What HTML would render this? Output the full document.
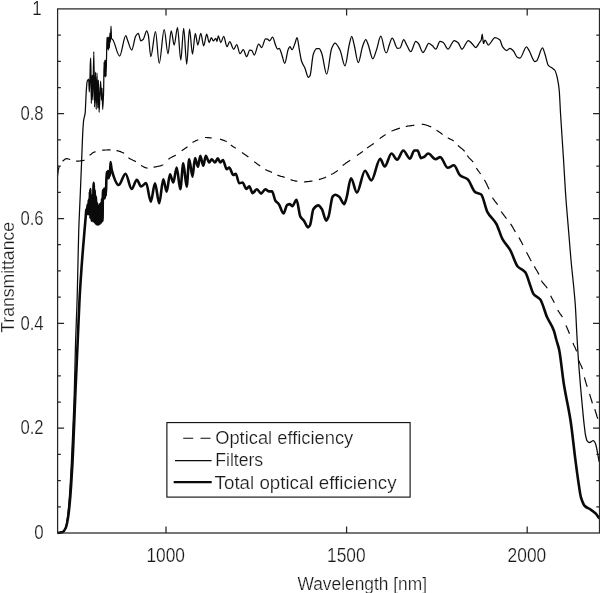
<!DOCTYPE html>
<html><head><meta charset="utf-8"><title>Transmittance</title>
<style>
html,body{margin:0;padding:0;background:#fff;}
svg{display:block;font-family:"Liberation Sans",sans-serif;font-size:18px;}
text{fill:#1a1a1a;stroke:#fff;stroke-width:0.22px;paint-order:fill stroke;}
.t{filter:grayscale(1);}
.tk{font-size:19.6px;}
</style></head>
<body>
<svg width="600" height="593" viewBox="0 0 600 593">
<rect x="0" y="0" width="600" height="593" fill="#fff"/>
<!-- curves -->
<g fill="none" stroke="#0a0a0a" stroke-linejoin="round" stroke-linecap="butt">
<path stroke-width="1.25" d="M57.6,533.0 C58.9,532.8 60.2,532.8 61.5,532.5 C62.4,532.3 63.3,531.6 64.2,530.5 C64.9,529.7 65.6,527.7 66.3,525.0 C66.9,522.8 67.4,518.0 68.0,513.0 C68.5,508.3 69.1,501.6 69.6,494.0 C70.2,486.0 70.7,475.2 71.3,464.0 C71.8,453.4 72.4,440.7 72.9,428.0 C73.3,417.6 73.8,408.2 74.2,395.0 C74.7,380.7 75.1,356.0 75.6,341.0 C76.1,325.0 76.6,316.9 77.1,300.0 C77.3,292.1 77.6,280.9 77.8,271.0 C78.1,258.3 78.4,241.5 78.7,232.0 C79.2,216.2 79.7,208.2 80.2,196.0 C80.7,183.8 81.2,171.2 81.7,159.0 C82.1,149.2 82.5,136.5 82.9,130.0 C83.2,125.7 83.4,122.0 83.7,120.0 C84.2,116.3 84.7,116.7 85.2,112.6 C85.5,109.8 85.9,97.2 86.2,92.4 C86.5,87.6 86.9,82.2 87.2,81.3 C87.7,80.0 88.2,79.2 88.7,79.2 C88.9,79.2 89.1,92.0 89.3,92.0 C89.5,92.0 89.7,85.5 89.9,80.0 C90.0,76.4 90.2,66.5 90.3,64.0 C90.5,60.9 90.6,58.0 90.8,58.0 C91.0,58.0 91.1,103.5 91.3,103.5 C91.6,103.5 91.9,75.0 92.2,75.0 C92.4,75.0 92.6,100.0 92.8,100.0 C93.1,100.0 93.5,51.5 93.8,51.5 C94.1,51.5 94.3,107.0 94.6,107.0 C94.9,107.0 95.2,72.2 95.5,72.2 C95.7,72.2 96.0,109.4 96.2,109.4 C96.5,109.4 96.7,73.0 97.0,73.0 C97.3,73.0 97.5,108.0 97.8,108.0 C98.0,108.0 98.2,80.0 98.4,80.0 C98.6,80.0 98.9,112.3 99.1,112.3 C99.6,112.3 100.1,81.0 100.6,81.0 C100.9,81.0 101.3,100.0 101.6,100.0 C101.7,100.0 101.9,88.0 102.0,88.0 C102.2,88.0 102.5,109.4 102.7,109.4 C103.0,109.4 103.3,101.0 103.6,91.7 C103.8,86.5 103.9,62.0 104.1,62.0 C104.2,62.0 104.4,76.0 104.5,76.0 C104.6,76.0 104.8,60.0 104.9,60.0 C105.0,60.0 105.2,77.0 105.3,77.0 C105.4,77.0 105.6,60.0 105.7,60.0 C105.8,60.0 106.0,76.0 106.1,76.0 C106.2,76.0 106.4,64.7 106.5,59.0 C106.7,51.9 106.8,37.4 107.0,37.4 C107.1,37.4 107.3,49.0 107.4,49.0 C107.6,49.0 107.7,37.0 107.9,37.0 C108.1,37.0 108.2,50.0 108.4,50.0 C108.6,50.0 108.7,37.0 108.9,37.0 C109.1,37.0 109.2,48.0 109.4,48.0 C109.6,48.0 109.7,33.0 109.9,33.0 C110.1,33.0 110.2,42.0 110.4,42.0 C110.6,42.0 110.8,26.1 111.0,26.1 C111.2,26.1 111.3,37.9 111.5,38.3 C112.0,39.6 112.5,39.3 113.0,40.0 C115.2,43.2 117.4,56.0 119.6,56.0 C121.7,56.0 123.7,35.6 125.8,35.6 C126.4,35.6 126.9,38.6 127.5,40.0 C128.9,43.5 130.3,50.0 131.7,50.0 C133.1,50.0 134.4,37.8 135.8,35.8 C136.6,34.6 137.5,33.3 138.3,33.3 C139.1,33.3 140.0,40.8 140.8,40.8 C141.6,40.8 142.5,40.0 143.3,39.2 C144.4,38.1 145.6,30.8 146.7,30.8 C147.2,30.8 147.8,32.9 148.3,35.0 C149.1,38.2 150.0,56.7 150.8,56.7 C152.4,56.7 153.9,31.7 155.5,31.7 C156.7,31.7 158.0,63.3 159.2,63.3 C160.9,63.3 162.5,29.7 164.2,29.7 C165.5,29.7 166.7,53.7 168.0,53.7 C169.1,53.7 170.1,30.8 171.2,30.8 C172.2,30.8 173.2,45.0 174.2,45.0 C175.3,45.0 176.4,27.5 177.5,27.5 C178.6,27.5 179.7,60.0 180.8,60.0 C181.8,60.0 182.7,28.3 183.7,28.3 C184.7,28.3 185.7,64.2 186.7,64.2 C187.6,64.2 188.6,29.2 189.5,29.2 C190.5,29.2 191.5,54.2 192.5,54.2 C193.4,54.2 194.4,33.3 195.3,33.3 C196.1,33.3 197.0,45.0 197.8,45.0 C198.8,45.0 199.8,33.3 200.8,33.3 C201.8,33.3 202.7,45.8 203.7,45.8 C204.7,45.8 205.7,34.2 206.7,34.2 C207.5,34.2 208.4,42.5 209.2,42.5 C209.9,42.5 210.6,37.5 211.3,37.5 C212.0,37.5 212.6,40.8 213.3,40.8 C214.1,40.8 215.0,38.3 215.8,38.3 C216.2,38.3 216.6,41.5 217.0,41.5 C217.4,41.5 217.9,35.8 218.3,35.8 C219.1,35.8 220.0,42.5 220.8,42.5 C221.8,42.5 222.7,36.3 223.7,36.3 C224.8,36.3 225.9,46.7 227.0,46.7 C227.9,46.7 228.8,41.7 229.7,41.7 C231.0,41.7 232.4,49.2 233.7,49.2 C234.7,49.2 235.7,44.7 236.7,44.7 C237.8,44.7 238.9,53.7 240.0,53.7 C241.1,53.7 242.2,49.7 243.3,49.7 C244.4,49.7 245.6,56.7 246.7,56.7 C247.7,56.7 248.7,50.0 249.7,50.0 C250.4,50.0 251.0,50.1 251.7,50.3 C252.5,50.5 253.4,55.0 254.2,55.0 C255.7,55.0 257.2,44.2 258.7,44.2 C259.7,44.2 260.7,47.5 261.7,47.5 C263.0,47.5 264.2,38.8 265.5,38.8 C266.2,38.8 266.8,39.0 267.5,39.2 C268.2,39.4 269.0,40.8 269.7,40.8 C270.6,40.8 271.6,37.2 272.5,37.2 C273.6,37.2 274.7,43.3 275.8,45.8 C276.4,47.1 276.9,49.2 277.5,49.2 C278.1,49.2 278.6,48.3 279.2,48.3 C280.0,48.3 280.9,52.0 281.7,54.2 C282.7,56.8 283.7,63.3 284.7,63.3 C285.9,63.3 287.1,51.6 288.3,49.2 C288.9,48.1 289.4,46.7 290.0,46.7 C290.7,46.7 291.3,49.7 292.0,49.7 C293.0,49.7 294.0,45.7 295.0,43.3 C295.7,41.6 296.4,37.5 297.1,37.5 C297.8,37.5 298.5,45.1 299.2,48.8 C300.0,52.9 300.7,58.6 301.5,61.0 C302.7,64.6 303.8,65.5 305.0,68.3 C306.1,70.9 307.2,77.3 308.3,77.3 C308.9,77.3 309.4,76.6 310.0,75.8 C311.1,74.2 312.2,57.1 313.3,54.2 C314.4,51.3 315.6,48.7 316.7,48.7 C317.5,48.7 318.4,48.7 319.2,48.7 C320.0,48.7 320.9,51.3 321.7,53.3 C323.4,57.4 325.0,74.2 326.7,74.2 C328.4,74.2 330.0,52.2 331.7,48.3 C332.8,45.7 333.9,43.0 335.0,43.0 C336.7,43.0 338.3,46.8 340.0,50.0 C341.7,53.2 343.3,65.8 345.0,65.8 C346.4,65.8 347.8,50.6 349.2,45.0 C350.0,41.6 350.9,36.3 351.7,36.3 C352.5,36.3 353.4,41.8 354.2,45.0 C355.6,50.2 356.9,62.5 358.3,62.5 C359.7,62.5 361.1,50.5 362.5,46.7 C363.6,43.7 364.7,39.7 365.8,39.7 C366.6,39.7 367.5,42.9 368.3,45.0 C369.8,48.7 371.3,58.8 372.8,58.8 C374.1,58.8 375.4,52.8 376.7,49.2 C378.1,45.4 379.4,36.2 380.8,36.2 C382.5,36.2 384.1,52.5 385.8,52.5 C386.1,52.5 386.4,52.5 386.7,52.5 C387.5,52.5 388.4,47.2 389.2,45.0 C390.2,42.4 391.2,38.2 392.2,38.2 C394.0,38.2 395.7,48.3 397.5,48.3 C398.3,48.3 399.2,48.2 400.0,48.0 C401.2,47.7 402.5,39.7 403.7,39.7 C404.7,39.7 405.7,43.3 406.7,45.0 C408.1,47.3 409.4,51.7 410.8,51.7 C412.5,51.7 414.1,41.3 415.8,41.3 C416.6,41.3 417.5,42.4 418.3,43.3 C419.9,45.0 421.4,52.5 423.0,52.5 C423.7,52.5 424.3,51.0 425.0,50.0 C426.2,48.2 427.5,43.3 428.7,43.3 C430.0,43.3 431.2,44.8 432.5,45.8 C433.6,46.7 434.7,49.2 435.8,49.2 C437.2,49.2 438.6,41.3 440.0,41.3 C441.1,41.3 442.2,41.9 443.3,42.5 C444.9,43.4 446.4,49.2 448.0,49.2 C450.1,49.2 452.1,40.5 454.2,40.5 C455.6,40.5 456.9,41.8 458.3,43.0 C459.5,44.1 460.8,49.2 462.0,49.2 C464.1,49.2 466.2,40.5 468.3,40.5 C469.4,40.5 470.6,42.3 471.7,43.3 C473.1,44.5 474.4,47.5 475.8,47.5 C477.0,47.5 478.3,44.2 479.5,42.5 C480.1,41.7 480.6,41.4 481.2,40.0 C481.5,39.2 481.9,34.2 482.2,34.2 C482.6,34.2 483.1,43.5 483.5,43.5 C484.0,43.5 484.5,40.0 485.0,40.0 C486.1,40.0 487.2,45.0 488.3,45.0 C490.5,45.0 492.8,37.5 495.0,37.5 C496.7,37.5 498.3,38.5 500.0,40.0 C500.8,40.8 501.7,45.5 502.5,46.7 C503.9,48.7 505.3,50.5 506.7,50.5 C507.8,50.5 508.9,48.3 510.0,48.3 C511.1,48.3 512.2,49.7 513.3,50.8 C514.7,52.2 516.1,57.0 517.5,57.5 C518.3,57.8 519.2,58.0 520.0,58.0 C522.2,58.0 524.3,46.8 526.5,46.8 C527.4,46.8 528.3,49.3 529.2,50.8 C531.1,54.0 533.1,61.7 535.0,61.7 C535.6,61.7 536.1,61.2 536.7,60.8 C538.6,59.3 540.6,48.0 542.5,48.0 C543.3,48.0 544.2,51.8 545.0,54.2 C546.1,57.3 547.2,64.0 548.3,65.3 C549.7,67.0 551.1,67.2 552.5,68.3 C553.3,69.0 554.2,69.3 555.0,70.5 C555.8,71.6 556.5,74.5 557.3,77.8 C557.9,80.5 558.6,83.9 559.2,90.0 C559.6,94.2 560.1,105.8 560.5,113.0 C561.4,128.5 562.4,141.3 563.3,156.0 C564.2,169.7 565.0,185.9 565.9,198.0 C566.8,210.5 567.7,220.1 568.6,231.0 C569.5,241.5 570.3,252.6 571.2,262.0 C572.1,272.2 573.1,279.9 574.0,290.0 C574.4,294.7 574.9,298.9 575.3,305.0 C575.9,313.0 576.4,327.3 577.0,337.0 C577.7,348.4 578.3,359.1 579.0,368.0 C580.2,383.6 581.3,395.7 582.5,408.0 C583.1,414.0 583.6,420.2 584.2,425.0 C584.7,429.0 585.1,433.2 585.6,435.5 C586.1,437.9 586.6,440.2 587.1,440.8 C587.9,441.8 588.7,442.5 589.5,442.5 C590.2,442.5 590.8,441.9 591.5,441.5 C592.0,441.2 592.5,440.6 593.0,440.6 C593.5,440.6 594.1,441.2 594.6,441.8 C595.0,442.3 595.5,443.6 595.9,445.0 C596.5,447.0 597.2,451.0 597.8,454.3 C598.3,456.7 598.7,459.4 599.2,462.0"/>
<path stroke-width="1.2" d="M57.5,176.0 L58.4,169.5 L59.3,166.0M62.6,161.2 L63.4,160.5 L64.1,159.9 L64.9,159.3 L65.6,158.9 L66.4,158.6 L67.2,158.6 L67.9,158.8 L68.7,159.0 L69.4,159.3 L70.2,159.5M76.1,161.2 L76.8,161.2 L77.5,161.2 L78.2,161.1 L78.9,161.1 L79.6,161.0 L80.3,160.9 L81.0,160.8 L81.7,160.7 L82.4,160.6 L83.1,160.5 L83.8,160.4 L84.5,160.2M89.6,155.3 L90.3,154.7 L91.1,154.2 L91.8,153.6 L92.5,153.1 L93.3,152.6 L94.0,152.2 L94.8,151.9 L95.5,151.6M102.2,150.2 L103.0,150.2 L103.7,150.1 L104.5,150.1 L105.3,150.0 L106.0,150.0 L106.8,150.0 L107.5,149.9 L108.3,149.9 L109.1,149.9 L109.8,149.9 L110.6,149.9M116.5,150.6 L117.3,150.7 L118.0,150.9 L118.8,151.1 L119.5,151.3 L120.3,151.6 L121.1,151.9 L121.8,152.2 L122.6,152.5 L123.3,152.9 L124.1,153.3M128.4,157.8 L129.2,158.3 L129.9,158.7 L130.7,159.1 L131.4,159.5 L132.2,159.8 L132.9,160.2 L133.7,160.5 L134.4,160.9 L135.2,161.3 L135.9,161.7M141.0,165.4 L141.7,165.8 L142.5,166.2 L143.2,166.6 L144.0,167.0 L144.7,167.4 L145.5,167.7 L146.2,167.9 L147.0,168.0 L147.7,168.1M153.6,167.2 L154.3,167.1 L155.1,166.9 L155.8,166.8 L156.6,166.7 L157.3,166.5 L158.1,166.3 L158.8,166.2 L159.6,166.0 L160.3,165.8 L161.1,165.6 L161.8,165.3 L162.6,165.0 L163.3,164.7M168.3,159.2 L169.1,158.7 L169.8,158.2 L170.6,157.8 L171.3,157.4 L172.1,157.0 L172.8,156.6 L173.6,156.2 L174.3,155.9 L175.1,155.4 L175.8,155.0M181.7,150.8 L182.4,150.3 L183.1,149.8 L183.9,149.3 L184.6,148.8 L185.3,148.3 L186.1,147.8 L186.8,147.2 L187.5,146.7M192.5,142.5 L193.2,142.1 L193.9,141.7 L194.7,141.3 L195.4,140.9 L196.1,140.6 L196.9,140.3 L197.6,140.0 L198.3,139.7M205.0,137.5 L205.7,137.5 L206.5,137.5 L207.2,137.6 L208.0,137.6 L208.7,137.7 L209.5,137.8 L210.2,137.8 L211.0,137.9 L211.7,138.0M220.0,139.2 L220.7,139.4 L221.5,139.6 L222.2,139.8 L223.0,140.1 L223.7,140.3 L224.5,140.6 L225.2,141.0 L226.0,141.3 L226.7,141.7M230.8,145.0 L231.5,145.5 L232.2,146.0 L232.9,146.5 L233.7,146.9 L234.4,147.4 L235.1,147.8 L235.8,148.3M242.0,152.6 L242.7,153.1 L243.4,153.6 L244.1,154.0 L244.8,154.5 L245.6,154.9 L246.3,155.4 L247.0,155.9 L247.7,156.4 L248.4,156.9M254.3,161.6 L255.0,162.2 L255.8,162.8 L256.5,163.3 L257.2,163.9 L258.0,164.5 L258.7,165.0 L259.5,165.6 L260.2,166.1M265.3,169.5 L266.0,169.9 L266.8,170.2 L267.5,170.5 L268.3,170.9 L269.0,171.2 L269.8,171.4 L270.5,171.8 L271.3,172.1 L272.0,172.4M277.4,175.1 L278.1,175.4 L278.9,175.6 L279.6,175.9 L280.3,176.1 L281.0,176.3 L281.8,176.5 L282.5,176.7 L283.2,176.9 L284.0,177.2 L284.7,177.4M290.6,179.6 L291.3,179.8 L292.1,180.1 L292.8,180.3 L293.6,180.5 L294.3,180.7 L295.1,180.9 L295.8,181.1 L296.6,181.2 L297.3,181.3M304.1,181.8 L304.9,181.8 L305.6,181.8 L306.4,181.7 L307.2,181.7 L307.9,181.6 L308.7,181.5 L309.4,181.4 L310.2,181.3 L311.0,181.2 L311.7,181.1 L312.5,181.0M318.9,179.6 L319.6,179.4 L320.3,179.2 L321.0,179.0 L321.7,178.7 L322.4,178.5 L323.2,178.2 L323.9,178.0 L324.6,177.7 L325.3,177.4 L326.0,177.1M331.1,174.6 L331.8,174.2 L332.6,173.8 L333.3,173.4 L334.1,172.9 L334.8,172.5 L335.6,172.0 L336.3,171.5 L337.1,171.0 L337.8,170.4M342.6,165.6 L343.4,165.0 L344.1,164.4 L344.9,163.9 L345.6,163.3 L346.4,162.8 L347.2,162.3 L347.9,161.8 L348.7,161.3 L349.4,160.8 L350.2,160.3M356.9,155.5 L357.6,155.0 L358.4,154.5 L359.1,153.9 L359.9,153.4 L360.6,152.9 L361.3,152.4 L362.1,151.9 L362.8,151.3M367.0,147.9 L367.8,147.4 L368.5,146.9 L369.3,146.4 L370.0,145.9 L370.8,145.4 L371.5,144.9 L372.3,144.4 L373.0,143.9 L373.8,143.4M379.7,138.7 L380.4,138.1 L381.2,137.6 L381.9,137.1 L382.6,136.5 L383.4,136.0 L384.1,135.5 L384.9,135.0 L385.6,134.5M391.5,131.1 L392.3,130.8 L393.0,130.5 L393.8,130.2 L394.6,129.9 L395.3,129.6 L396.1,129.4 L396.8,129.1 L397.6,128.9 L398.4,128.7 L399.1,128.4 L399.9,128.2M405.8,126.5 L406.5,126.4 L407.2,126.2 L407.9,126.1 L408.6,126.0 L409.3,125.9 L410.1,125.8 L410.8,125.7 L411.5,125.6 L412.2,125.5 L412.9,125.4 L413.6,125.3 L414.3,125.2M421.8,124.3 L422.5,124.3 L423.2,124.4 L424.0,124.5 L424.7,124.7 L425.4,124.8 L426.1,125.0 L426.9,125.3 L427.6,125.5 L428.3,125.8 L429.0,126.1 L429.8,126.4 L430.5,126.7 L431.2,126.9M436.5,130.2 L437.3,130.7 L438.1,131.2 L438.8,131.7 L439.6,132.3 L440.4,132.8 L441.1,133.3 L441.9,133.9 L442.7,134.4M447.8,137.8 L448.5,138.2 L449.3,138.6 L450.0,139.0 L450.8,139.4 L451.5,139.7 L452.2,140.1 L453.0,140.6 L453.7,141.1M457.9,145.4 L458.6,146.1 L459.4,146.7 L460.1,147.3 L460.9,147.9 L461.6,148.4 L462.4,149.1 L463.1,149.7 L463.9,150.5 L464.6,151.3M467.2,155.5 L467.9,156.4 L468.7,157.3 L469.4,158.1 L470.1,158.8 L470.9,159.6 L471.6,160.4 L472.4,161.2 L473.1,162.2M476.4,168.1 L477.1,169.2 L477.8,170.2 L478.5,171.1 L479.2,172.0 L479.9,173.0 L480.6,174.0M484.4,179.9 L485.2,181.3 L486.0,182.7 L486.8,184.3 L487.5,185.9 L488.3,187.5 L489.1,189.2M492.5,197.6 L493.2,198.8 L494.0,199.9 L494.7,200.9 L495.4,201.8 L496.1,202.7 L496.9,203.7 L497.6,204.8M501.2,211.5 L502.0,212.6 L502.7,213.7 L503.5,214.7 L504.2,215.7 L505.0,216.7 L505.7,217.6 L506.5,218.6M510.6,223.9 L511.4,225.1 L512.2,226.4 L513.0,227.8 L513.8,229.2 L514.6,230.6 L515.4,231.9M518.9,237.5 L519.7,238.9 L520.5,240.4 L521.4,242.0 L522.2,243.5 L523.0,245.1M526.5,252.2 L527.3,253.7 L528.1,255.2 L528.9,256.7 L529.7,258.2 L530.5,259.7 L531.3,261.1M534.3,266.4 L535.1,267.7 L535.8,269.0 L536.6,270.2 L537.4,271.5 L538.1,272.9 L538.9,274.4M541.4,280.6 L542.1,281.8 L542.9,282.8 L543.6,283.7 L544.3,284.5 L545.0,285.3 L545.8,286.1 L546.5,287.1 L547.2,288.2M550.7,295.8 L551.4,297.2 L552.1,298.6 L552.9,299.9 L553.6,301.3 L554.3,302.7M557.7,310.1 L558.5,311.4 L559.3,312.5 L560.0,313.6 L560.8,314.6 L561.6,315.8 L562.4,317.1M566.0,325.4 L566.7,327.0 L567.4,328.7 L568.1,330.3 L568.8,332.0 L569.5,333.7M573.0,343.1 L573.7,344.8 L574.4,346.3 L575.2,347.8 L575.9,349.5 L576.6,351.4M579.0,360.8 L579.7,362.7 L580.4,364.2 L581.1,365.6 L581.8,367.2 L582.5,369.1M584.4,377.3 L585.1,379.9 L585.8,382.3 L586.5,384.6 L587.2,386.8M589.6,393.9 L590.5,397.1 L591.5,400.3 L592.4,403.3M594.8,409.2 L595.5,411.5 L596.3,414.0 L597.0,416.5 L597.8,418.7"/>
<path stroke-width="2.6" d="M57.6,533.0 C59.3,532.7 61.0,532.6 62.7,532.0 C63.7,531.6 64.7,530.1 65.7,528.0 C66.5,526.3 67.4,521.8 68.2,516.6 C68.9,512.2 69.6,504.6 70.3,496.3 C71.0,488.4 71.6,478.1 72.3,466.0 C72.9,455.7 73.4,441.5 74.0,428.0 C74.4,417.7 74.9,405.4 75.3,395.0 C76.1,375.8 76.9,359.1 77.7,341.0 C78.3,327.4 78.9,311.2 79.5,300.0 C80.2,286.3 81.0,275.7 81.7,265.5 C82.6,253.0 83.5,242.8 84.4,232.0 C84.8,227.2 85.2,222.7 85.6,218.0 C85.8,216.0 85.9,214.0 86.1,212.0 C86.2,211.2 86.2,209.5 86.3,209.5 C86.5,209.5 86.7,214.1 86.9,214.1 C87.1,214.1 87.3,204.8 87.5,204.8 C87.7,204.8 87.9,214.2 88.1,214.2 C88.3,214.2 88.5,199.8 88.7,199.8 C88.9,199.8 89.1,214.3 89.3,214.3 C89.5,214.3 89.7,192.0 89.9,192.0 C89.9,192.0 90.0,212.0 90.0,212.0 C90.1,212.0 90.2,189.0 90.3,189.0 C90.4,189.0 90.4,218.0 90.5,218.0 C90.5,218.0 90.6,215.3 90.6,214.0 C90.8,207.5 90.9,195.1 91.1,195.1 C91.3,195.1 91.5,220.6 91.7,220.6 C91.9,220.6 92.1,196.9 92.3,196.9 C92.5,196.9 92.7,221.1 92.9,221.1 C93.1,221.1 93.3,190.1 93.5,186.5 C93.6,184.6 93.7,182.9 93.8,182.9 C93.9,182.9 94.0,221.6 94.1,221.6 C94.3,221.6 94.5,190.0 94.7,190.0 C94.9,190.0 95.1,223.1 95.3,223.1 C95.5,223.1 95.7,196.5 95.9,196.5 C96.1,196.5 96.3,224.2 96.5,224.2 C96.7,224.2 96.9,202.6 97.1,202.6 C97.3,202.6 97.5,224.7 97.7,224.7 C97.9,224.7 98.1,206.1 98.3,206.1 C98.5,206.1 98.7,224.5 98.9,224.5 C99.1,224.5 99.3,204.4 99.5,204.4 C99.7,204.4 99.9,223.8 100.1,223.8 C100.3,223.8 100.5,203.1 100.7,203.1 C100.9,203.1 101.1,222.6 101.3,222.6 C101.5,222.6 101.7,198.4 101.9,198.4 C102.1,198.4 102.3,221.0 102.5,221.0 C102.7,221.0 102.8,190.0 103.0,190.0 C103.2,190.0 103.4,198.5 103.6,198.5 C103.8,198.5 104.0,188.5 104.2,188.5 C104.4,188.5 104.6,198.5 104.8,198.5 C105.0,198.5 105.2,188.0 105.4,188.0 C105.6,188.0 105.7,196.0 105.9,196.0 C106.1,196.0 106.4,172.0 106.6,172.0 C106.8,172.0 107.1,178.5 107.3,178.5 C107.5,178.5 107.8,171.0 108.0,171.0 C108.2,171.0 108.5,178.3 108.7,178.3 C108.9,178.3 109.2,171.0 109.4,171.0 C109.6,171.0 109.7,176.0 109.9,176.0 C110.1,176.0 110.3,162.0 110.5,162.0 C110.9,162.0 111.3,168.3 111.7,169.8 C114.1,178.5 116.4,185.0 118.8,185.0 C121.0,185.0 123.3,173.7 125.5,173.7 C127.6,173.7 129.6,189.0 131.7,189.0 C133.4,189.0 135.1,179.7 136.8,179.7 C138.2,179.7 139.6,186.5 141.0,186.5 C142.7,186.5 144.4,183.1 146.1,183.1 C147.7,183.1 149.2,201.7 150.8,201.7 C152.2,201.7 153.6,183.3 155.0,183.3 C156.4,183.3 157.8,203.3 159.2,203.3 C160.6,203.3 161.9,179.2 163.3,179.2 C164.4,179.2 165.6,191.7 166.7,191.7 C167.8,191.7 168.9,174.2 170.0,174.2 C171.1,174.2 172.2,182.5 173.3,182.5 C174.4,182.5 175.6,167.5 176.7,167.5 C177.9,167.5 179.1,189.2 180.3,189.2 C181.3,189.2 182.3,163.3 183.3,163.3 C184.4,163.3 185.6,186.7 186.7,186.7 C187.5,186.7 188.4,159.2 189.2,159.2 C190.3,159.2 191.4,176.7 192.5,176.7 C193.3,176.7 194.2,158.0 195.0,158.0 C196.0,158.0 197.0,166.7 198.0,166.7 C198.8,166.7 199.5,155.8 200.3,155.8 C201.3,155.8 202.3,165.8 203.3,165.8 C204.1,165.8 205.0,155.8 205.8,155.8 C206.9,155.8 208.1,162.5 209.2,162.5 C210.0,162.5 210.9,159.2 211.7,159.2 C212.8,159.2 213.9,162.5 215.0,162.5 C215.9,162.5 216.9,158.3 217.8,158.3 C218.6,158.3 219.5,162.5 220.3,162.5 C221.2,162.5 222.1,160.0 223.0,160.0 C224.2,160.0 225.5,169.2 226.7,169.2 C227.5,169.2 228.4,167.5 229.2,167.5 C230.6,167.5 231.9,175.0 233.3,175.0 C234.1,175.0 235.0,173.7 235.8,173.7 C236.9,173.7 238.1,183.3 239.2,183.3 C240.3,183.3 241.4,182.5 242.5,182.5 C243.8,182.5 245.1,188.9 246.4,188.9 C247.4,188.9 248.3,186.4 249.3,186.4 C250.4,186.4 251.5,193.1 252.6,193.1 C254.0,193.1 255.5,189.2 256.9,189.2 C258.3,189.2 259.7,193.6 261.1,193.6 C262.5,193.6 263.9,189.2 265.3,189.2 C266.4,189.2 267.6,191.4 268.7,191.4 C269.8,191.4 270.9,191.4 272.0,191.4 C273.1,191.4 274.3,199.0 275.4,200.7 C276.5,202.4 277.7,202.6 278.8,204.1 C280.4,206.1 281.9,213.4 283.5,213.4 C284.7,213.4 286.0,205.6 287.2,204.9 C288.0,204.5 288.9,204.1 289.7,204.1 C290.6,204.1 291.4,206.1 292.3,206.1 C293.7,206.1 295.1,199.9 296.5,199.9 C297.8,199.9 299.1,214.4 300.4,216.7 C301.6,218.9 302.9,219.2 304.1,220.9 C305.4,222.7 306.7,227.4 308.0,227.4 C308.7,227.4 309.3,226.3 310.0,225.2 C311.1,223.3 312.3,210.6 313.4,209.1 C315.1,206.9 316.7,205.4 318.4,205.4 C319.5,205.4 320.7,207.4 321.8,209.1 C323.3,211.3 324.8,220.6 326.3,220.6 C327.0,220.6 327.8,218.5 328.5,216.7 C329.9,213.2 331.3,198.0 332.7,196.5 C333.6,195.6 334.4,194.8 335.3,194.8 C336.6,194.8 337.9,195.8 339.2,196.8 C340.9,198.1 342.6,204.1 344.3,204.1 C345.0,204.1 345.8,200.4 346.5,198.0 C348.0,193.0 349.5,178.3 351.0,178.3 C353.0,178.3 354.9,192.6 356.9,192.6 C359.6,192.6 362.3,170.7 365.0,170.7 C367.1,170.7 369.2,180.5 371.3,180.5 C374.3,180.5 377.2,158.9 380.2,158.9 C381.7,158.9 383.2,166.5 384.7,166.5 C387.0,166.5 389.2,153.5 391.5,153.5 C393.4,153.5 395.2,159.7 397.1,159.7 C399.2,159.7 401.2,150.5 403.3,150.5 C405.5,150.5 407.8,158.6 410.0,158.6 C411.4,158.6 412.9,150.5 414.3,150.5 C415.4,150.5 416.5,150.5 417.6,150.5 C418.7,150.5 419.9,158.1 421.0,158.1 C422.0,158.1 423.0,157.5 424.0,157.0 C425.4,156.3 426.8,153.5 428.2,153.5 C430.7,153.5 433.1,159.2 435.6,159.2 C437.1,159.2 438.7,157.1 440.2,157.1 C442.7,157.1 445.3,167.8 447.8,167.8 C449.8,167.8 451.9,165.3 453.9,165.3 C455.9,165.3 458.0,173.6 460.0,175.3 C462.5,177.4 465.1,177.3 467.6,179.3 C470.1,181.3 472.7,190.5 475.2,192.1 C477.2,193.4 479.2,193.1 481.2,194.5 C483.2,195.9 485.3,208.0 487.3,211.8 C490.3,217.5 493.4,218.6 496.4,224.0 C498.4,227.6 500.5,235.5 502.5,239.2 C505.0,243.8 507.6,245.5 510.1,249.8 C512.6,254.1 515.2,263.6 517.7,266.5 C520.3,269.4 522.8,269.2 525.4,272.4 C526.8,274.1 528.1,279.6 529.5,283.2 C530.8,286.8 532.2,292.3 533.5,294.0 C535.8,297.0 538.0,296.7 540.3,299.5 C542.5,302.3 544.8,312.0 547.0,317.0 C549.3,322.1 551.5,324.4 553.8,330.5 C554.7,332.8 555.5,336.9 556.4,340.0 C557.3,343.4 558.3,345.6 559.2,350.0 C560.7,357.2 562.3,374.1 563.8,383.8 C566.1,398.2 568.3,406.1 570.6,421.0 C572.3,432.0 573.9,448.6 575.6,461.4 C576.5,468.6 577.5,475.9 578.4,482.0 C579.3,487.7 580.1,494.6 581.0,497.5 C582.3,501.7 583.5,504.7 584.8,506.0 C586.8,508.0 588.7,508.3 590.7,509.6 C592.3,510.7 593.8,511.7 595.4,513.2 C596.7,514.5 598.0,516.7 599.3,518.5"/>
</g>
<!-- frame -->
<g fill="none" stroke="#262626" stroke-width="1.25">
<rect x="57.6" y="8.9" width="541.9" height="524.1"/>
<path d="M57.6,506.8h3.2M599.5,506.8h-3.2M57.6,480.6h3.2M599.5,480.6h-3.2M57.6,454.4h3.2M599.5,454.4h-3.2M57.6,428.2h6.5M599.5,428.2h-6.5M57.6,402.0h3.2M599.5,402.0h-3.2M57.6,375.8h3.2M599.5,375.8h-3.2M57.6,349.6h3.2M599.5,349.6h-3.2M57.6,323.4h6.5M599.5,323.4h-6.5M57.6,297.2h3.2M599.5,297.2h-3.2M57.6,270.9h3.2M599.5,270.9h-3.2M57.6,244.7h3.2M599.5,244.7h-3.2M57.6,218.5h6.5M599.5,218.5h-6.5M57.6,192.3h3.2M599.5,192.3h-3.2M57.6,166.1h3.2M599.5,166.1h-3.2M57.6,139.9h3.2M599.5,139.9h-3.2M57.6,113.7h6.5M599.5,113.7h-6.5M57.6,87.5h3.2M599.5,87.5h-3.2M57.6,61.3h3.2M599.5,61.3h-3.2M57.6,35.1h3.2M599.5,35.1h-3.2M166.0,533.0v-6.5M166.0,8.9v6.5M346.6,533.0v-6.5M346.6,8.9v6.5M527.2,533.0v-6.5M527.2,8.9v6.5"/>
</g>
<!-- axis labels -->
<g class="t">
<text class="tk" x="41.6" y="14.5" text-anchor="end" textLength="9.4" lengthAdjust="spacingAndGlyphs">1</text>
<text class="tk" x="43.6" y="119.8" text-anchor="end" textLength="23.2" lengthAdjust="spacingAndGlyphs">0.8</text>
<text class="tk" x="43.6" y="224.6" text-anchor="end" textLength="23.2" lengthAdjust="spacingAndGlyphs">0.6</text>
<text class="tk" x="43.6" y="329.5" text-anchor="end" textLength="23.2" lengthAdjust="spacingAndGlyphs">0.4</text>
<text class="tk" x="43.6" y="434.3" text-anchor="end" textLength="23.2" lengthAdjust="spacingAndGlyphs">0.2</text>
<text class="tk" x="43.6" y="539.1" text-anchor="end" textLength="9.4" lengthAdjust="spacingAndGlyphs">0</text>
<text class="tk" x="165.7" y="561.5" text-anchor="middle" textLength="38.6" lengthAdjust="spacingAndGlyphs">1000</text>
<text class="tk" x="346.3" y="561.5" text-anchor="middle" textLength="38.6" lengthAdjust="spacingAndGlyphs">1500</text>
<text class="tk" x="526.9" y="561.5" text-anchor="middle" textLength="38.6" lengthAdjust="spacingAndGlyphs">2000</text>

<text x="297.5" y="590" textLength="129.5" lengthAdjust="spacingAndGlyphs">Wavelength [nm]</text>
<text transform="translate(14.3,332.8) rotate(-90)" textLength="110.8" lengthAdjust="spacingAndGlyphs">Transmittance</text>
</g>
<!-- legend -->
<rect x="166.9" y="422.6" width="243.2" height="74.5" fill="#fff" stroke="#0a0a0a" stroke-width="1.1"/>
<g fill="none" stroke="#0a0a0a">
<path stroke-width="1.1" d="M183.2,438.2h10M200.5,438.2h10"/>
<path stroke-width="1.1" d="M175,460.6h36.6"/>
<path stroke-width="2.4" d="M173.7,482.1h38"/>
</g>
<g class="t">
<text x="215.2" y="444.2" textLength="138" lengthAdjust="spacingAndGlyphs">Optical efficiency</text>
<text x="215.2" y="466.1" textLength="48" lengthAdjust="spacingAndGlyphs">Filters</text>
<text x="214.6" y="489.2" textLength="182" lengthAdjust="spacingAndGlyphs">Total optical efficiency</text>
</g>
</svg>
</body></html>
